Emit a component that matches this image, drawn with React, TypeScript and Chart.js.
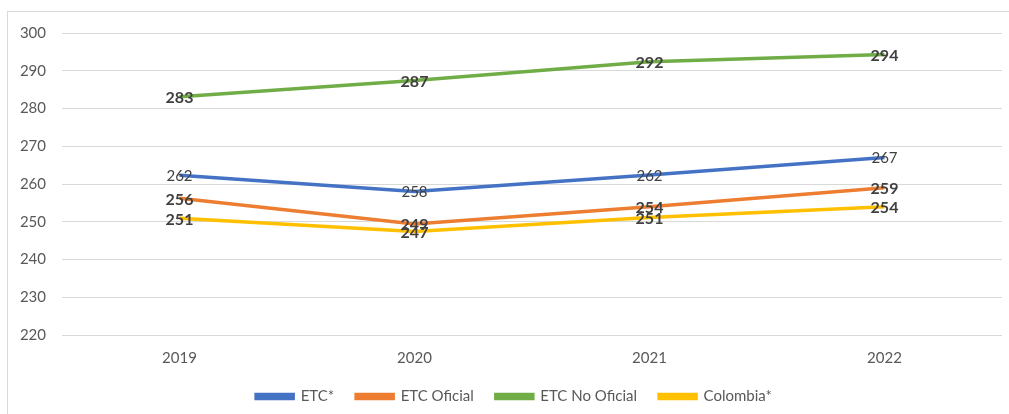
import React, { useEffect, useRef } from "react";
import { Chart, registerables } from "chart.js";

Chart.register(...registerables);

const categories = ["2019", "2020", "2021", "2022"];
const etc = [262.3, 258.0, 262.4, 267.0];
const etcOficial = [256.2, 249.4, 254.0, 259.0];
const etcNoOficial = [283.1, 287.4, 292.4, 294.3];
const colombia = [250.9, 247.4, 251.1, 254.0];
const seriesNames = ["ETC*", "ETC Oficial", "ETC No Oficial", "Colombia*"];
const seriesColors = ["#4472C4", "#ED7D31", "#70AD47", "#FFC000"];
const boldLabels = [false, true, true, true];
const yTicks = { min: 220, max: 300, step: 10 };

const FONT = "Lato, 'Noto Sans', sans-serif";

const labelPlugin = {
  id: "pointLabels",
  afterDatasetsDraw(chart: any) {
    const ctx = chart.ctx;
    ctx.save();
    ctx.textAlign = "center";
    ctx.textBaseline = "middle";
    chart.data.datasets.forEach((ds: any, i: number) => {
      const meta = chart.getDatasetMeta(i);
      ctx.font = (boldLabels[i] ? "bold 16px " : "15px ") + FONT;
      ctx.fillStyle = "#404040";
      meta.data.forEach((pt: any, j: number) => {
        const v = ds.data[j];
        ctx.fillText(String(Math.round(v)), pt.x, pt.y + 1);
      });
    });
    ctx.restore();
  },
};

const legendShift = {
  id: "legendShift",
  afterLayout(chart: any) {
    if (chart.legend) {
      chart.legend.left += 13;
      chart.legend.right += 13;
      chart.legend.top += 2;
      chart.legend.bottom += 2;
    }
  },
};

export default function App() {
  const ref = useRef<HTMLCanvasElement>(null);
  useEffect(() => {
    if (!ref.current) return;
    const data = [etc, etcOficial, etcNoOficial, colombia];
    const chart = new Chart(ref.current, {
      type: "line",
      data: {
        labels: categories,
        datasets: data.map((d, i) => ({
          label: seriesNames[i],
          data: d,
          borderColor: seriesColors[i],
          backgroundColor: seriesColors[i],
          borderWidth: 3.5,
          pointRadius: 0,
          tension: 0,
          fill: false,
        })),
      },
      options: {
        responsive: false,
        animation: false,
        devicePixelRatio: 1,
        layout: { padding: { left: 0, right: 7, top: 33, bottom: 2 } },
        plugins: {
          tooltip: { enabled: false },
          legend: {
            position: "bottom",
            labels: {
              boxWidth: 37,
              boxHeight: 4,
              padding: 22,
              color: "#595959",
              font: { family: FONT, size: 15 },
            },
          },
        },
        scales: {
          x: {
            offset: true,
            grid: { display: false, drawTicks: false },
            border: { display: false },
            ticks: { color: "#595959", font: { family: FONT, size: 15 }, padding: 14 },
            afterFit: (s: any) => {
              s.height = 30;
            },
          },
          y: {
            min: yTicks.min,
            max: yTicks.max,
            grid: { color: "#d9d9d9", drawTicks: false, lineWidth: 1 },
            border: { display: false },
            ticks: {
              stepSize: yTicks.step,
              color: "#595959",
              font: { family: FONT, size: 15 },
              padding: 16,
            },
            afterFit: (s: any) => {
              s.width = 62;
            },
          },
        },
      },
      plugins: [labelPlugin, legendShift],
    });
    return () => chart.destroy();
  }, []);
  return (
    <div
      style={{
        position: "absolute",
        left: 0,
        top: 0,
        width: 1009,
        height: 414,
        overflow: "hidden",
        background: "#fff",
      }}
    >
      <div
        style={{
          position: "absolute",
          left: 7,
          top: 11,
          width: 1020,
          height: 420,
          border: "1px solid #d9d9d9",
        }}
      />
      <canvas
        ref={ref}
        width={1009}
        height={414}
        style={{ position: "absolute", left: 0, top: 0 }}
      />
    </div>
  );
}
